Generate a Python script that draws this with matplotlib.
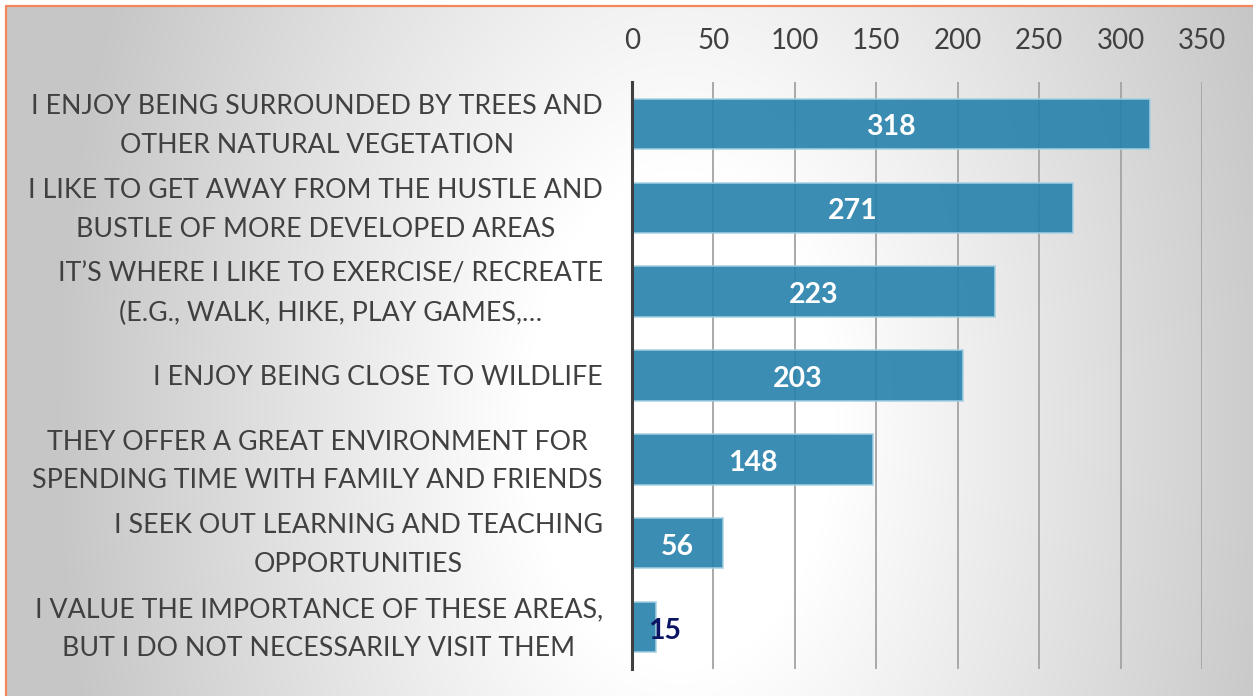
import numpy as np
import matplotlib.pyplot as plt
from matplotlib.transforms import ScaledTranslation

categories = [
    'I ENJOY BEING SURROUNDED BY TREES AND\nOTHER NATURAL VEGETATION',
    'I LIKE TO GET AWAY FROM THE HUSTLE AND\nBUSTLE OF MORE DEVELOPED AREAS',
    'IT\u2019S WHERE I LIKE TO EXERCISE/ RECREATE\n(E.G., WALK, HIKE, PLAY GAMES,\u2026',
    'I ENJOY BEING CLOSE TO WILDLIFE',
    'THEY OFFER A GREAT ENVIRONMENT FOR\nSPENDING TIME WITH FAMILY AND FRIENDS',
    'I SEEK OUT LEARNING AND TEACHING\nOPPORTUNITIES',
    'I VALUE THE IMPORTANCE OF THESE AREAS,\nBUT I DO NOT NECESSARILY VISIT THEM',
]
counts = [318, 271, 223, 203, 148, 56, 15]
xticks = [0, 50, 100, 150, 200, 250, 300, 350]

plt.rcParams['font.family'] = ['Lato', 'DejaVu Sans']
text_col = '#404040'

W, H = 1253, 696
fig = plt.figure(figsize=(W / 100, H / 100), dpi=100)

# background: radial grey gradient inside an orange frame
bg = fig.add_axes([0, 0, 1, 1], zorder=-10)
yy, xx = np.mgrid[0:H, 0:W]
r = np.sqrt(((xx - 680) / 620.0) ** 2 + ((yy - 420) / 1000.0) ** 2)
g = 1 - 0.22 * np.clip((r - 0.25) / 0.75, 0, 1)
g[:6, :] = 1
g[:, :6] = 1
bg.imshow(np.dstack([g, g, g]), aspect='auto', extent=(0, W, H, 0))
bg.plot([6, 6, W + 5], [H + 5, 6, 6], color='#F3875B', lw=1.6, solid_capstyle='butt')
bg.set_xlim(0, W)
bg.set_ylim(H, 0)
bg.axis('off')

ax = fig.add_axes([632 / W, 1 - 669 / H, 570 / W, 587 / H])
ax.patch.set_alpha(0)
y = np.arange(len(categories))
ax.barh(y, counts, height=0.6, color='#2681AC', alpha=0.9,
        edgecolor='#A6D0E2', linewidth=1.2, zorder=3)
ax.set_ylim(len(categories) - 0.5, -0.5)
ax.set_xlim(0, 350)

down = ScaledTranslation(0, -2.5 / 72, fig.dpi_scale_trans)
for yi, v in zip(y, counts):
    if v > 40:
        ax.text(v / 2, yi, str(v), ha='center', va='center', color='white',
                fontsize=20.5, fontweight='bold', zorder=4,
                transform=ax.transData + down)
    else:
        ax.text(20, yi, str(v), ha='center', va='center', color='#0B1462',
                fontsize=20.5, fontweight='bold', zorder=4,
                transform=ax.transData + down)

ax.xaxis.tick_top()
ax.set_xticks(xticks)
ax.tick_params(axis='x', length=0, pad=20, labelsize=20, labelcolor=text_col)

# category labels
ax.set_yticks([])
nudge = ScaledTranslation(0, -1.5 / 72, fig.dpi_scale_trans)
for yi, lab in zip(y, categories):
    ax.text(-29 / 570, yi, lab, transform=ax.get_yaxis_transform() + nudge,
            ha='right', va='center', multialignment='center',
            fontsize=19.3, color=text_col, linespacing=1.68)

ax.grid(axis='x', color='#A3A3A3', linewidth=1.3, zorder=1)
for s in ['top', 'right', 'bottom']:
    ax.spines[s].set_visible(False)
ax.spines['left'].set_color(text_col)
ax.spines['left'].set_linewidth(2.2)
ax.spines['left'].set_zorder(5)

plt.savefig('out.png', dpi=100)
